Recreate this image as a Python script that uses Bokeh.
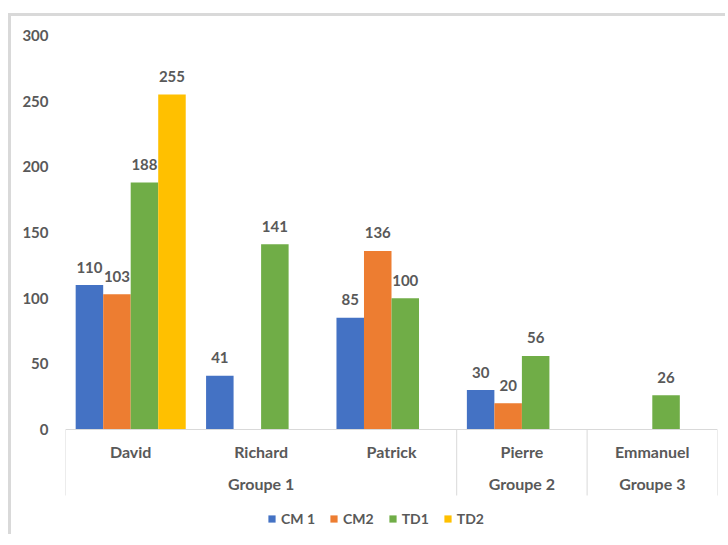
from bokeh.plotting import figure
from bokeh.models import (ColumnDataSource, Range1d, LinearAxis, FixedTicker,
                          Legend, LegendItem, Span)
from bokeh.core.properties import value
from bokeh.embed import file_html
from bokeh.resources import INLINE

# ---------------- data ----------------
names = ["David", "Richard", "Patrick", "Pierre", "Emmanuel"]
groups = ["Groupe 1", "Groupe 1", "Groupe 1", "Groupe 2", "Groupe 3"]
series = ["CM 1", "CM2", "TD1", "TD2"]
cm1 = [110, 41, 85, 30, None]
cm2 = [103, None, 136, 20, None]
td1 = [188, 141, 100, 56, 26]
td2 = [255, None, None, None, None]
y_ticks = [0, 50, 100, 150, 200, 250, 300]
colors = ["#4472C4", "#ED7D31", "#70AD47", "#FFC000"]

# ---------------- style / layout ----------------
FONT = "Lato"
GREY = "#595959"
LINE = "#D9D9D9"
BAR_W = 0.211
W, H = 717, 521
TOP, LEFT, RIGHT = 19, 54, 11
PLOT_PX = 394                      # pixels between 0 and 300
FRAME_PX = H - TOP                 # frame runs to canvas bottom
UNIT = (y_ticks[-1] - y_ticks[0]) / PLOT_PX   # data units per pixel
Y_START = y_ticks[-1] - FRAME_PX * UNIT
SEP_PX = 66                        # length of category separators

p = figure(width=W, height=H,
           x_range=Range1d(-0.5, len(names) - 0.5),
           y_range=Range1d(Y_START, y_ticks[-1]),
           output_backend="svg", toolbar_location=None,
           x_axis_type=None, y_axis_type=None,
           min_border_left=LEFT, min_border_right=RIGHT,
           min_border_top=TOP, min_border_bottom=0)
p.outline_line_color = None
p.background_fill_color = "white"
p.border_fill_color = "white"
p.xgrid.visible = False
p.ygrid.visible = False
p.styles = {"position": "relative", "top": "13px", "left": "8px",
            "border-top": "3px solid #D9D9D9",
            "border-left": "3px solid #D9D9D9"}

# y axis
yax = LinearAxis(ticker=FixedTicker(ticks=y_ticks))
yax.axis_line_color = None
yax.major_tick_line_color = None
yax.minor_tick_line_color = None
yax.major_tick_out = 0
yax.major_label_standoff = 17
yax.major_label_text_font = FONT
yax.major_label_text_font_style = "bold"
yax.major_label_text_font_size = "15px"
yax.major_label_text_color = GREY
p.add_layout(yax, "left")

# category axis line
p.add_layout(Span(location=0, dimension="width", line_color=LINE, line_width=1))

# group separators
n = len(names)
bounds = [-0.5]
for i in range(1, n):
    if groups[i] != groups[i - 1]:
        bounds.append(i - 0.5)
bounds.append(n - 0.5)
p.segment(x0=bounds, x1=bounds, y0=[0] * len(bounds),
          y1=[-SEP_PX * UNIT] * len(bounds), line_color=LINE, line_width=1)

# category labels
p.text(x=list(range(n)), y=[0] * n, text=names, y_offset=22,
       text_align="center", text_baseline="middle",
       text_font=value(FONT), text_font_style="bold",
       text_font_size="16px", text_color=GREY)

gnames, gcent = [], []
for g in dict.fromkeys(groups):
    idx = [i for i, gg in enumerate(groups) if gg == g]
    gnames.append(g)
    gcent.append((idx[0] + idx[-1]) / 2)
p.text(x=gcent, y=[0] * len(gcent), text=gnames, y_offset=54,
       text_align="center", text_baseline="middle",
       text_font=value(FONT), text_font_style="bold",
       text_font_size="16px", text_color=GREY)

# bars + value labels
items = []
all_series = [cm1, cm2, td1, td2]
for k, (lab, vals, col) in enumerate(zip(series, all_series, colors)):
    off = (k - (len(series) - 1) / 2) * BAR_W
    xs = [i + off for i, v in enumerate(vals) if v is not None]
    ys = [v for v in vals if v is not None]
    src = ColumnDataSource(dict(x=xs, top=ys, txt=[str(v) for v in ys]))
    r = p.vbar(x="x", top="top", bottom=0, width=BAR_W, source=src,
               fill_color=col, line_color=col, line_width=0)
    p.text(x="x", y="top", text="txt", source=src,
           text_align="center", text_baseline="middle", y_offset=-18,
           text_font=value(FONT), text_font_style="bold",
           text_font_size="15px", text_color=GREY)
    items.append(LegendItem(label=lab, renderers=[r]))

legend = Legend(items=items, orientation="horizontal", location=(202, 10))
legend.glyph_width = 9
legend.glyph_height = 9
legend.label_standoff = 5
legend.spacing = 14
legend.padding = 4
legend.margin = 0
legend.border_line_color = None
legend.background_fill_alpha = 0
legend.label_text_font = FONT
legend.label_text_font_style = "bold"
legend.label_text_font_size = "14px"
legend.label_text_color = GREY
p.add_layout(legend)

open("out.html", "w").write(file_html(p, INLINE))
